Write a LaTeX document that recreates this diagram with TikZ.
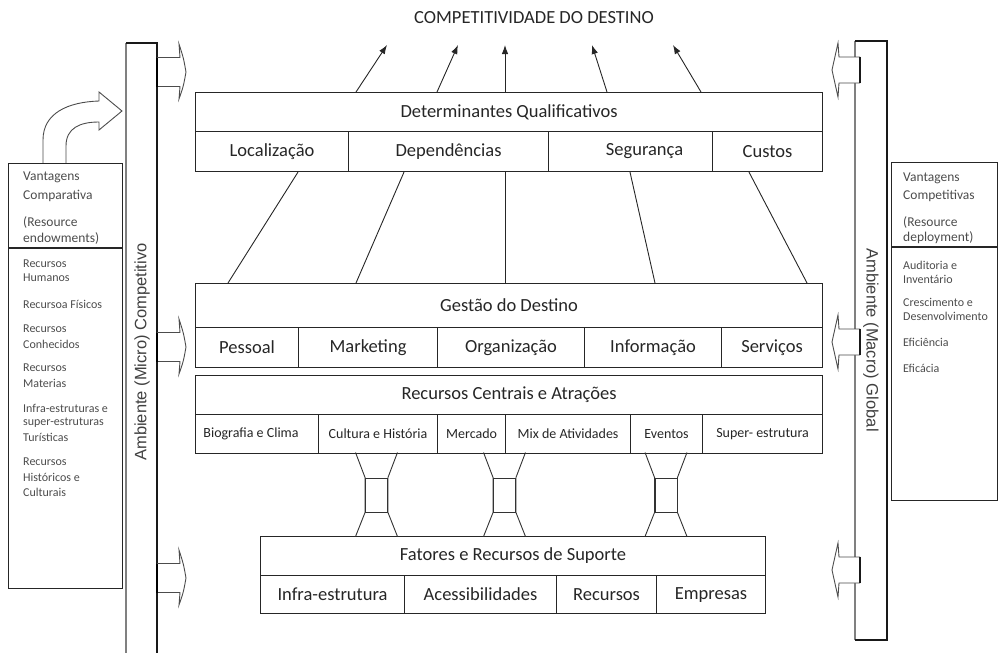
\documentclass[tikz,border=0pt]{standalone}
\usepackage{fontspec}
\setmainfont{Carlito}
\newfontfamily\barfont{Liberation Sans}
\usetikzlibrary{arrows.meta,calc}
\begin{document}
\begin{tikzpicture}[x=1pt,y=-1pt,
  cell/.style={draw=black!85, line width=1.1pt, inner sep=0pt, anchor=north west, text=black!85, font=\fontsize{18.5}{20}\selectfont},
  smallcell/.style={cell, font=\fontsize{14}{16}\selectfont},
  sidebox/.style={draw=black!85, line width=1.1pt, inner sep=0pt, anchor=north west},
  side/.style={anchor=west, inner sep=0pt, text=black!70, font=\fontsize{13.5}{15}\selectfont},
  sidelist/.style={anchor=west, inner sep=0pt, text=black!70, font=\fontsize{12}{14}\selectfont},
  link/.style={draw=black!85, line width=0.9pt},
  uparrow/.style={link, -{Latex[length=9pt,width=6.5pt]}},
  blockarrow/.style={draw=black!70, line width=0.9pt, fill=white},
  hourglass/.style={draw=black!80, line width=0.9pt},
  barlabel/.style={font=\barfont\fontsize{16.5}{18}\selectfont, text=black!75, inner sep=0pt},
]
\useasboundingbox (0,0) rectangle (999,653);

% title
\node[text=black!85, font=\fontsize{18.5}{20}\selectfont] (title) at (534,18) {COMPETITIVIDADE DO DESTINO};

% ---- vertical bars
\draw[black!50, line width=1.3pt] (126,653) -- (126,43);
\draw[black!90, line width=1.1pt] (126,43) -- (157,43) -- (157,653);
\node[barlabel, rotate=90] (lbar) at (142,352) {Ambiente (Micro) Competitivo};

\draw[black!50, line width=1.3pt] (855,640) -- (855,41);
\draw[black!90, line width=1.1pt] (855,41) -- (887,41) -- (887,640) -- (855,640);
\node[barlabel, rotate=-90] (rbar) at (871,340) {Ambiente (Macro) Global};

% ---- left block arrows
\foreach \cy in {72,347,578}{
  \draw[blockarrow] (157,\cy-14.5) -- (180,\cy-14.5) -- (179,\cy-28)
     .. controls (183.5,\cy-14) .. (186,\cy) .. controls (183.5,\cy+14) .. (179,\cy+27)
     -- (180,\cy+14.5) -- (157,\cy+14.5);
  \draw[black, line width=2.4pt] (157,\cy-14.5) -- (157,\cy+14.5);
}
% ---- right block arrows
\foreach \cy in {70,342,570}{
  \draw[blockarrow] (860,\cy-13) -- (839,\cy-13) -- (838,\cy-27)
     .. controls (834.5,\cy-14) .. (832,\cy) .. controls (834.5,\cy+14) .. (838,\cy+27)
     -- (839,\cy+13) -- (860,\cy+13);
  \draw[black!90, line width=1.4pt] (860,\cy-13) -- (860,\cy+13);
}

% ---- curved arrow above left box
\draw[blockarrow] (43,163) -- (43,140) .. controls (43,113) and (68,102) .. (99,101)
   -- (99,92) -- (122,111) -- (99,130) -- (99,122)
   .. controls (80,122) and (66,128) .. (66,146) -- (66,163);

% ---- left box
\node[sidebox, minimum width=114pt, minimum height=425pt] (lbox) at (8,163) {};
\draw[black!85, line width=1.1pt] (8,248) -- (122,248);
\node[side] (l1) at (23,177) {Vantagens};
\node[side] (l2) at (23,196) {Comparativa};
\node[side] (l3) at (23,222) {(Resource};
\node[side] (l4) at (23,238) {endowments)};
\foreach \t/\y in {Recursos/264, Humanos/278, Recursoa Físicos/304, Recursos/329, Conhecidos/344,
  Recursos/368, Materias/383, Infra-estruturas e/408, super-estruturas/423, Turísticas/437,
  Recursos/462, Históricos e/477, Culturais/492}
  \node[sidelist] at (23,\y) {\t};

% ---- right box
\node[sidebox, minimum width=106pt, minimum height=338pt] (rbox) at (891,162) {};
\draw[black!85, line width=1.1pt] (891,247) -- (997,247);
\node[side] (r1) at (903,178) {Vantagens};
\node[side] (r2) at (903,196) {Competitivas};
\node[side] (r3) at (903,222) {(Resource};
\node[side] (r4) at (903,238) {deployment)};
\foreach \t/\y in {Auditoria e/265, Inventário/279, Crescimento e/302, Desenvolvimento/316,
  Eficiência/342, Eficácia/368}
  \node[sidelist] at (903,\y) {\t};

% ---- Determinantes Qualificativos
\node[cell, minimum width=627pt, minimum height=39pt] (det) at (195,92) {Determinantes Qualificativos};
\node[cell, minimum width=153pt, minimum height=40pt] (loc) at (195,131) {Localização};
\node[cell, minimum width=200pt, minimum height=40pt] (dep) at (348,131) {Dependências};
\node[cell, minimum width=164pt, minimum height=40pt] (seg) at (548,131) {\hspace*{28pt}Segurança};
\node[cell, minimum width=110pt, minimum height=40pt] (cus) at (712,131) {Custos};

% arrows to competitiveness
\coordinate (t1) at (387,45);
\coordinate (t2) at (458,45);
\coordinate (t3) at (505,45);
\coordinate (t4) at (592,45);
\coordinate (t5) at (673,45);
\draw[uparrow] ($(det.north west)+(161,0)$) -- (t1);
\draw[uparrow] ($(det.north west)+(242,0)$) -- (t2);
\draw[uparrow] ($(det.north west)+(310,0)$) -- (t3);
\draw[uparrow] ($(det.north west)+(412,0)$) -- (t4);
\draw[uparrow] ($(det.north west)+(506,0)$) -- (t5);

% ---- Gestão do Destino
\node[cell, minimum width=627pt, minimum height=44pt] (ges) at (195,283) {Gestão do Destino};
\node[cell, minimum width=103pt, minimum height=40pt] (pes) at (195,327) {Pessoal};
\node[cell, minimum width=139pt, minimum height=40pt] (mkt) at (298,327) {Marketing};
\node[cell, minimum width=147pt, minimum height=40pt] (org) at (437,327) {Organização};
\node[cell, minimum width=137pt, minimum height=40pt] (inf) at (584,327) {Informação};
\node[cell, minimum width=101pt, minimum height=40pt] (ser) at (721,327) {Serviços};

% links between Determinantes and Gestão
\draw[link] ($(loc.south west)+(103,0)$) -- ($(ges.north west)+(33,0)$);
\draw[link] ($(loc.south west)+(209,0)$) -- ($(ges.north west)+(161,0)$);
\draw[link] ($(loc.south west)+(310,0)$) -- ($(ges.north west)+(310,0)$);
\draw[link] ($(loc.south west)+(435,0)$) -- ($(ges.north west)+(460,0)$);
\draw[link] ($(loc.south west)+(554,0)$) -- ($(ges.north west)+(612,0)$);

% ---- Recursos Centrais e Atrações
\node[cell, minimum width=627pt, minimum height=39pt] (rec) at (195,375) {Recursos Centrais e Atrações};
\node[smallcell, minimum width=123pt, minimum height=39pt] (bio) at (195,414) {Biografia e Clima\hspace*{12pt}};
\node[smallcell, minimum width=119pt, minimum height=39pt] (cul) at (318,414) {Cultura e História};
\node[smallcell, minimum width=68pt, minimum height=39pt] (mer) at (437,414) {Mercado};
\node[smallcell, minimum width=125pt, minimum height=39pt] (mix) at (505,414) {Mix de Atividades};
\node[smallcell, minimum width=72pt, minimum height=39pt] (eve) at (630,414) {Eventos};
\node[smallcell, minimum width=120pt, minimum height=39pt] (sup) at (702,414) {Super- estrutura};

% ---- Fatores e Recursos de Suporte
\node[cell, minimum width=505pt, minimum height=39pt] (fat) at (260,536) {Fatores e Recursos de Suporte};
\node[cell, minimum width=144pt, minimum height=38pt] (infra) at (260,575) {Infra-estrutura};
\node[cell, minimum width=152pt, minimum height=38pt] (ace) at (404,575) {Acessibilidades};
\node[cell, minimum width=100pt, minimum height=38pt] (rcs) at (556,575) {Recursos};
\node[cell, minimum width=109pt, minimum height=38pt] (emp) at (656,575) {Empresas};

% ---- hourglass connectors
\foreach \n/\cx in {1/376.5, 2/504.5, 3/666}{
  \node[hourglass, minimum width=22pt, minimum height=34pt, inner sep=0pt] (hg\n) at (\cx,495) {};
  \draw[hourglass] ($(hg\n.north west)+(-9.5,-25)$) -- (hg\n.north west) -- (hg\n.south west) -- ($(hg\n.south west)+(-9.5,24)$);
  \draw[hourglass] ($(hg\n.north east)+(9.5,-25)$) -- (hg\n.north east) -- (hg\n.south east) -- ($(hg\n.south east)+(9.5,24)$);
}
\end{tikzpicture}
\end{document}
